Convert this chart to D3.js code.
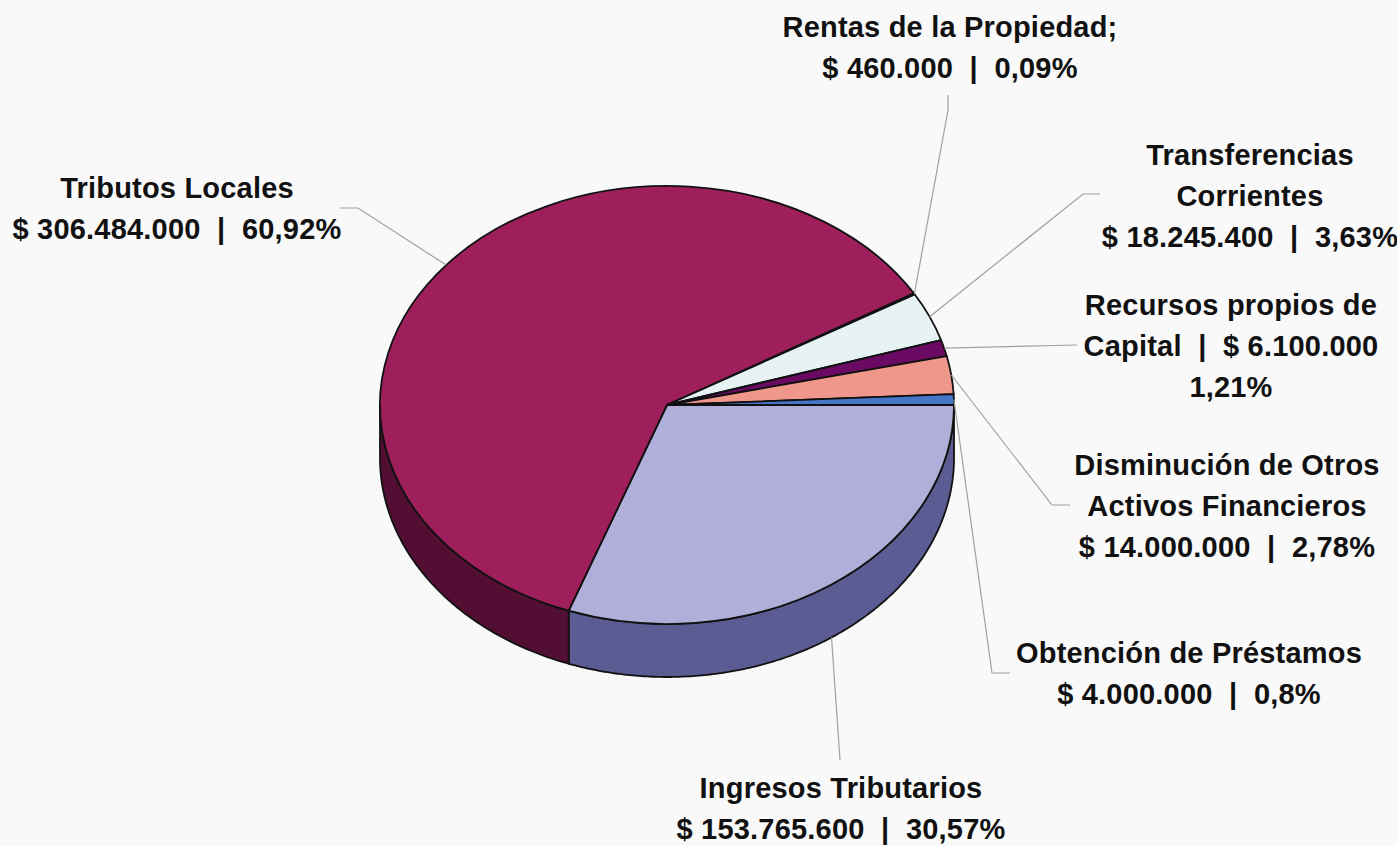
<!DOCTYPE html>
<html>
<head>
<meta charset="utf-8">
<script src="https://cdn.jsdelivr.net/npm/d3@7"></script>
<style>
  body { margin: 0; background: #f9f9f9; }
  text { font-family: "Liberation Sans", Arial, sans-serif; font-weight: bold; white-space: pre; }
</style>
</head>
<body>
<div id="container"></div>
<script>
/* DATA */
const categories = ["Ingresos Tributarios", "Tributos Locales", "Rentas de la Propiedad",
  "Transferencias Corrientes", "Recursos propios de Capital",
  "Disminución de Otros Activos Financieros", "Obtención de Préstamos"];
const values = [153765600, 306484000, 460000, 18245400, 6100000, 14000000, 4000000];
const percents = ["30,57%", "60,92%", "0,09%", "3,63%", "1,21%", "2,78%", "0,8%"];
const labelLines = [
  ["Ingresos Tributarios", "{v}  |  {p}"],
  ["Tributos Locales", "{v}  |  {p}"],
  ["Rentas de la Propiedad;", "{v}  |  {p}"],
  ["Transferencias", "Corrientes", "{v}  |  {p}"],
  ["Recursos propios de", "Capital  |  {v}", "{p}"],
  ["Disminución de Otros", "Activos Financieros", "{v}  |  {p}"],
  ["Obtención de Préstamos", "{v}  |  {p}"]
];
const topColors = ["#afafd9", "#9e1f5b", "#ffffdd", "#e6f2f3", "#6b0a62", "#ef978a", "#4676c8"];
const sideColors = ["#5c5c94", "#520f33", "#b0b090", "#a0aaaa", "#40063b", "#a86a60", "#2e5090"];

/* LAYOUT (label centre, first baseline, leader elbow, leader end) */
const labelPos = [
  {x: 841, y: 798, pts: [[840, 760]]},
  {x: 177, y: 198, pts: [[358, 208], [340, 208]]},
  {x: 950, y: 37,  pts: [[948, 110], [948, 95]]},
  {x: 1250, y: 165, pts: [[1083, 194], [1100, 194]]},
  {x: 1231, y: 315, pts: [[1077, 345]]},
  {x: 1227, y: 475, pts: [[1052, 505], [1070, 505]]},
  {x: 1189, y: 663, pts: [[992, 673], [1010, 673]]}
];

const width = 1397, height = 846,
  cx = 667, cy = 405, rx = 287, ry = 219, depth = 53,
  lineGap = 41;

const fmt = d3.formatLocale({decimal: ",", thousands: ".", grouping: [3], currency: ["$ ", ""]}).format("$,");

const svg = d3.select("#container")
  .append("svg")
  .attr("width", width)
  .attr("height", height)
  .style("background-color", "#f9f9f9");

// pie angles: d3 angle 0 = 12 o'clock; start at 3 o'clock going clockwise
const pie = d3.pie().sort(null).startAngle(Math.PI / 2).endAngle(Math.PI / 2 + 2 * Math.PI);
const slices = pie(values);

// screen angle (from east, clockwise)
const th = a => a - Math.PI / 2;
const pt = (t, dy = 0) => [cx + rx * Math.cos(t), cy + ry * Math.sin(t) + dy];

// side walls (front half only)
const line = d3.line();
slices.forEach((s, i) => {
  let t0 = Math.max(th(s.startAngle), 0), t1 = Math.min(th(s.endAngle), Math.PI);
  if (t1 <= t0) return;
  const ts = d3.range(t0, t1, 0.01).concat([t1]);
  const pts = ts.map(t => pt(t)).concat(ts.slice().reverse().map(t => pt(t, depth)));
  svg.append("path")
    .attr("d", line(pts) + "Z")
    .attr("fill", sideColors[i])
    .attr("stroke", "#111")
    .attr("stroke-width", 1.8)
    .attr("stroke-linejoin", "round");
});

// top faces
const arc = d3.arc().innerRadius(0).outerRadius(rx);
svg.append("g")
  .attr("transform", `translate(${cx},${cy}) scale(1,${ry / rx})`)
  .selectAll("path")
  .data(slices)
  .join("path")
  .attr("d", arc)
  .attr("fill", (d, i) => topColors[i])
  .attr("stroke", "#111")
  .attr("stroke-width", 1.8)
  .attr("stroke-linejoin", "round")
  .attr("vector-effect", "non-scaling-stroke");

// leader lines
slices.forEach((s, i) => {
  const t = th((s.startAngle + s.endAngle) / 2);
  const front = Math.sin(t) > 0.3;
  const start = pt(t, front ? depth : 0);
  svg.append("path")
    .attr("d", d3.line()([start].concat(labelPos[i].pts)))
    .attr("fill", "none")
    .attr("stroke", "#a0a0a0")
    .attr("stroke-width", 1.2);
});

// labels
labelLines.forEach((lines, i) => {
  const t = svg.append("text")
    .attr("text-anchor", "middle")
    .attr("font-size", 29)
    .attr("letter-spacing", 0.2)
    .attr("fill", "#111");
  lines.forEach((l, k) => {
    t.append("tspan")
      .attr("x", labelPos[i].x)
      .attr("y", labelPos[i].y + k * lineGap)
      .text(l.replace("{v}", fmt(values[i])).replace("{p}", percents[i]));
  });
});
</script>
</body>
</html>
